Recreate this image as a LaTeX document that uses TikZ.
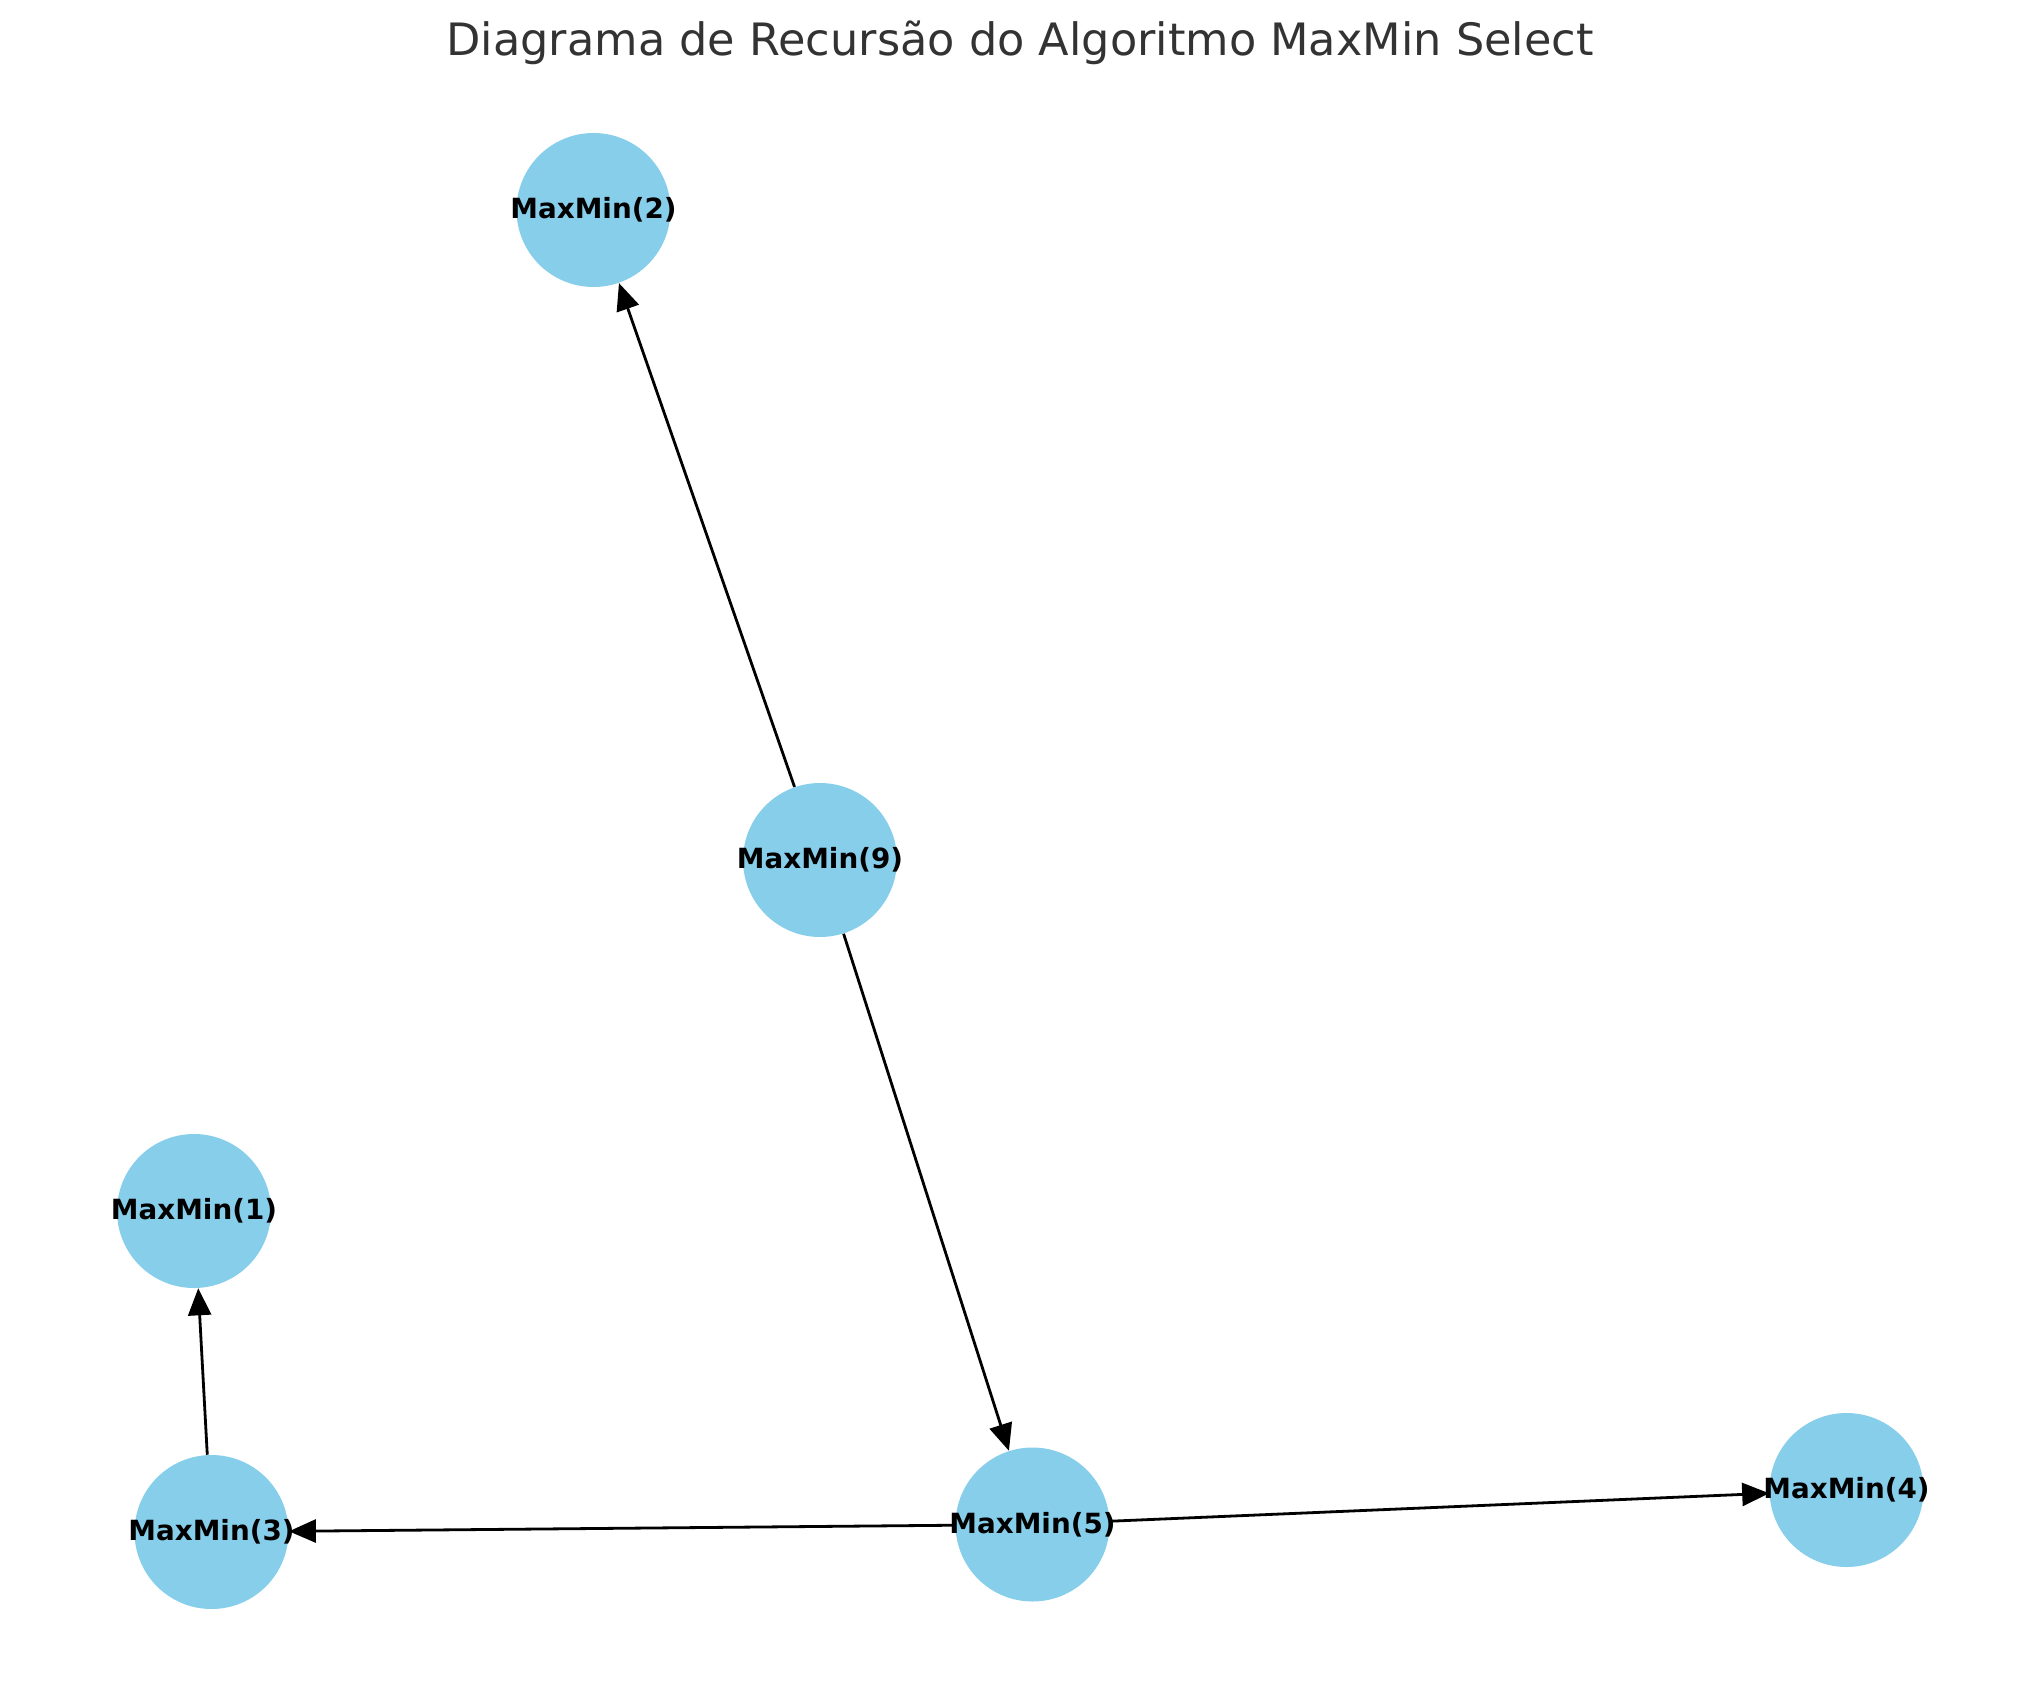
\documentclass[tikz,border=0pt]{standalone}
\usepackage{fontspec}
\setmainfont{DejaVu Sans}
\usetikzlibrary{arrows.meta}
\definecolor{nodeblue}{HTML}{87CEEB}
\definecolor{titlegray}{HTML}{333333}
\begin{document}
\begin{tikzpicture}[x=0.5pt,y=-0.5pt,
  vert/.style={circle,fill=nodeblue,draw=none,minimum size=77pt,inner sep=0pt,
    label={[font=\fontsize{13.9pt}{16pt}\selectfont\bfseries,text=black]center:#1}},
  edge/.style={line width=1.4pt,-{Triangle[length=13.5pt,width=11.5pt]}}]
\useasboundingbox (0,0) rectangle (2039,1691);
\node[anchor=base,text=titlegray,font=\fontsize{22.3pt}{26pt}\selectfont] (title) at (1020,56) {Diagrama de Recursão do Algoritmo MaxMin Select};
\node[vert={MaxMin(2)}] (n2) at (593.5,210) {};
\node[vert={MaxMin(9)}] (n9) at (820,860) {};
\node[vert={MaxMin(1)}] (n1) at (194,1211) {};
\node[vert={MaxMin(3)}] (n3) at (211.5,1532) {};
\node[vert={MaxMin(5)}] (n5) at (1032.5,1524.5) {};
\node[vert={MaxMin(4)}] (n4) at (1846.5,1490) {};
\draw[edge] (n9) -- (n2);
\draw[edge] (n9) -- (n5);
\draw[edge] (n5) -- (n3);
\draw[edge] (n5) -- (n4);
\draw[edge] (n3) -- (n1);
\end{tikzpicture}
\end{document}
